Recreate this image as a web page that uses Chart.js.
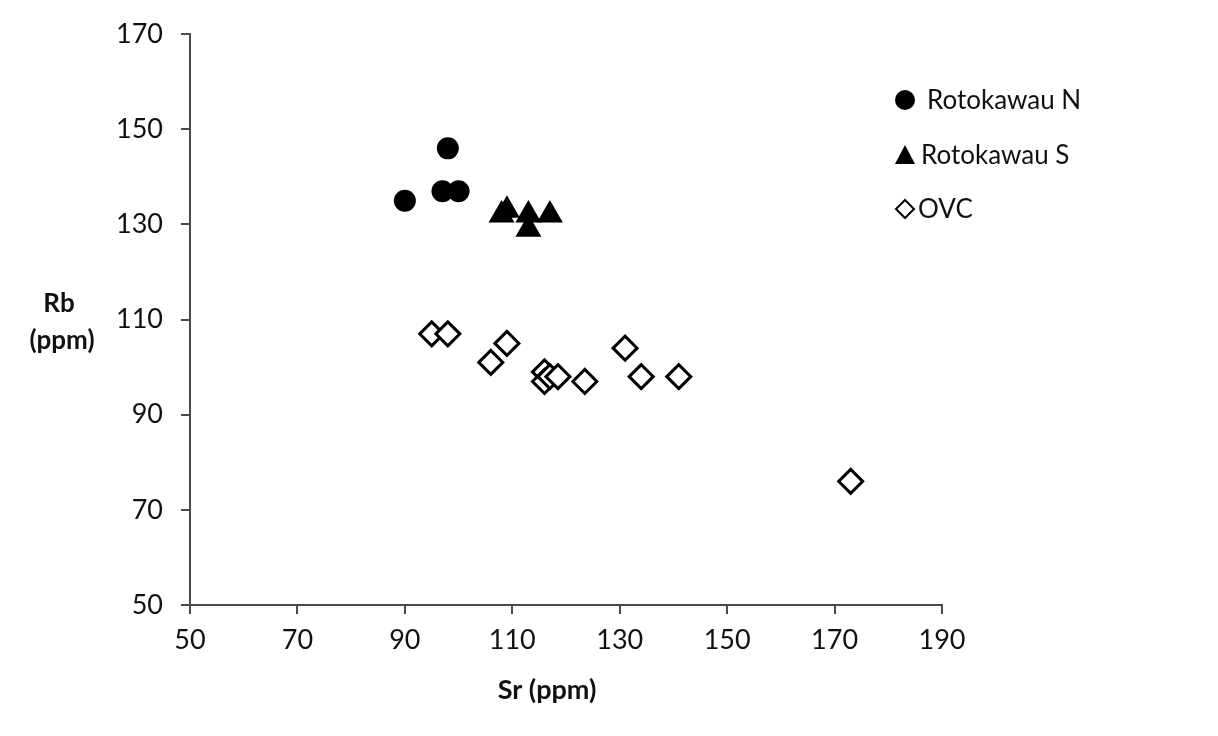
<!DOCTYPE html>
<html>
<head>
<meta charset="utf-8">
<script src="https://cdn.jsdelivr.net/npm/chart.js@4.4.0/dist/chart.umd.min.js"></script>
<style>
  html, body { margin: 0; padding: 0; background: #fff; }
  #wrap { width: 1218px; height: 736px; }
</style>
</head>
<body>
<div id="wrap"><canvas id="rbSr"></canvas></div>
<script>
// Series (Sr, Rb) in ppm
const seriesNames = ['Rotokawau N', 'Rotokawau S', 'OVC'];
const rotoN_sr = [90, 98, 97, 100];
const rotoN_rb = [135, 146, 137, 137];
const rotoS_sr = [108, 109, 113, 117, 113];
const rotoS_rb = [132, 133, 132, 132, 129];
const ovc_sr = [95, 98, 109, 106, 116, 116, 117, 118.5, 123.5, 131, 134, 141, 173];
const ovc_rb = [107, 107, 105, 101, 99, 97, 98, 98, 97, 104, 98, 98, 76];
const xTicks = [50, 70, 90, 110, 130, 150, 170, 190];
const yTicks = [50, 70, 90, 110, 130, 150, 170];

const toPoints = (xs, ys) => xs.map((x, i) => ({x: x, y: ys[i]}));

const FONT = 'Lato, "Open Sans", sans-serif';
const INK = '#111';
const AXIS = '#4a4a4a';

// Legend and axis titles drawn by hand, placed like the original
const sideLegend = {
    id: 'sideLegend',
    afterDraw(chart) {
        const c = chart.ctx;
        c.save();
        c.font = '26px ' + FONT;
        c.fillStyle = INK;
        c.textBaseline = 'middle';
        // circle
        c.beginPath();
        c.arc(905, 100, 10, 0, Math.PI * 2);
        c.fillStyle = '#000';
        c.fill();
        c.fillStyle = INK;
        c.fillText(seriesNames[0], 927, 101);
        // triangle
        c.beginPath();
        c.moveTo(905, 145);
        c.lineTo(915, 164);
        c.lineTo(895, 164);
        c.closePath();
        c.fillStyle = '#000';
        c.fill();
        c.fillStyle = INK;
        c.fillText(seriesNames[1], 921, 156);
        // diamond
        c.beginPath();
        c.moveTo(905, 200);
        c.lineTo(914, 209);
        c.lineTo(905, 218);
        c.lineTo(896, 209);
        c.closePath();
        c.lineWidth = 2;
        c.strokeStyle = '#000';
        c.stroke();
        c.fillText(seriesNames[2], 918, 210);

        // axis titles
        c.font = 'bold 26px ' + FONT;
        c.textAlign = 'center';
        c.fillText('Rb', 59, 304);
        c.fillText('(ppm)', 62, 341);
        c.font = 'bold 27px ' + FONT;
        c.fillText('Sr (ppm)', 547, 690);
        c.restore();
    }
};

const canvas = document.getElementById('rbSr');
const ctx = canvas.getContext('2d');

new Chart(ctx, {
    type: 'scatter',
    data: {
        datasets: [{
            label: seriesNames[2],
            data: toPoints(ovc_sr, ovc_rb),
            pointStyle: 'rectRot',
            pointRadius: 12,
            pointBorderWidth: 3,
            pointBackgroundColor: '#fff',
            pointBorderColor: '#000'
        }, {
            label: seriesNames[1],
            data: toPoints(rotoS_sr, rotoS_rb),
            pointStyle: 'triangle',
            pointRadius: 15,
            pointBorderWidth: 0,
            pointBackgroundColor: '#000',
            pointBorderColor: '#000'
        }, {
            label: seriesNames[0],
            data: toPoints(rotoN_sr, rotoN_rb),
            pointStyle: 'circle',
            pointRadius: 11,
            pointBorderWidth: 0,
            pointBackgroundColor: '#000',
            pointBorderColor: '#000'
        }]
    },
    options: {
        responsive: true,
        maintainAspectRatio: false,
        animation: false,
        layout: {
            padding: {left: 0, right: 276, top: 32, bottom: 28}
        },
        plugins: {
            legend: {display: false},
            tooltip: {enabled: false}
        },
        scales: {
            x: {
                type: 'linear',
                min: 50,
                max: 190,
                afterBuildTicks: axis => { axis.ticks = xTicks.map(v => ({value: v})); },
                afterFit: axis => { axis.height = 103; },
                grid: {
                    drawOnChartArea: false,
                    drawTicks: true,
                    tickLength: 9,
                    color: AXIS,
                    lineWidth: 2
                },
                border: {display: true, color: AXIS, width: 2},
                ticks: {
                    color: INK,
                    padding: 10,
                    maxRotation: 0,
                    font: {family: FONT, size: 27}
                }
            },
            y: {
                type: 'linear',
                min: 50,
                max: 170,
                afterBuildTicks: axis => { axis.ticks = yTicks.map(v => ({value: v})); },
                afterFit: axis => { axis.width = 190; },
                grid: {
                    drawOnChartArea: false,
                    drawTicks: true,
                    tickLength: 9,
                    color: AXIS,
                    lineWidth: 2
                },
                border: {display: true, color: AXIS, width: 2},
                ticks: {
                    color: INK,
                    padding: 18,
                    font: {family: FONT, size: 27}
                }
            }
        }
    },
    plugins: [sideLegend]
});
</script>
</body>
</html>
